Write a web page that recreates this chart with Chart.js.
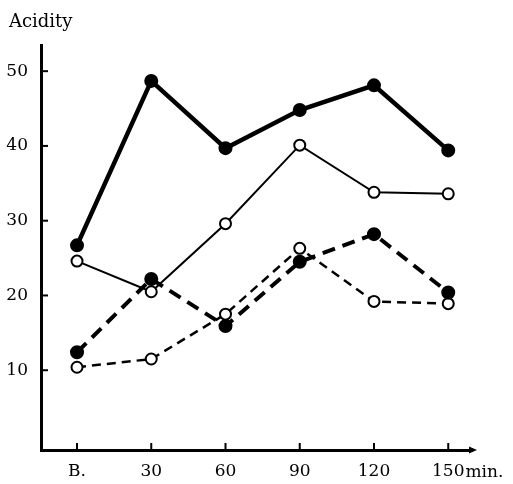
<!DOCTYPE html>
<html>
<head>
<meta charset="utf-8">
<script src="https://cdn.jsdelivr.net/npm/chart.js@4/dist/chart.umd.min.js"></script>
<style>
  html, body { margin: 0; padding: 0; background: #fff; }
  canvas { display: block; }
</style>
</head>
<body>
<canvas id="myChart" width="513" height="484" style="width:513px;height:484px"></canvas>
<script>
// datos
const categorias = ['B.', '30', '60', '90', '120', '150'];
const ticksY = [10, 20, 30, 40, 50];
const serieGruesaLlena = [26.7, 48.7, 39.7, 44.8, 48.1, 39.4];
const serieFinaAbierta = [24.6, 20.5, 29.6, 40.1, 33.8, 33.6];
const serieGruesaPuntos = [12.4, 22.2, 15.9, 24.5, 28.2, 20.4];
const serieFinaPuntos = [10.4, 11.5, 17.5, 26.3, 19.2, 18.9];

const FUENTE = "'DejaVu Serif', 'Liberation Serif', serif";

const aPuntos = (valores) => valores.map((v, i) => ({ x: i, y: v }));

// ejes con marcas hacia adentro, titulo y flecha
const decoracion = {
    id: 'decoracion',
    afterDraw(chart) {
        const ctx = chart.ctx;
        const area = chart.chartArea;
        const sx = chart.scales.x;
        const sy = chart.scales.y;
        ctx.save();
        ctx.strokeStyle = '#000';
        ctx.fillStyle = '#000';
        ctx.lineWidth = 2;
        ticksY.forEach(v => {
            const y = sy.getPixelForValue(v);
            ctx.beginPath();
            ctx.moveTo(area.left, y);
            ctx.lineTo(area.left + 7, y);
            ctx.stroke();
        });
        categorias.forEach((c, i) => {
            const x = sx.getPixelForValue(i);
            ctx.beginPath();
            ctx.moveTo(x, area.bottom);
            ctx.lineTo(x, area.bottom - 7);
            ctx.stroke();
        });
        // flecha del eje x
        ctx.beginPath();
        ctx.moveTo(area.right + 5, area.bottom);
        ctx.lineTo(area.right - 3, area.bottom - 3.5);
        ctx.lineTo(area.right - 3, area.bottom + 3.5);
        ctx.closePath();
        ctx.fill();

        ctx.font = '18px ' + FUENTE;
        ctx.textBaseline = 'alphabetic';
        ctx.textAlign = 'left';
        ctx.fillText('Acidity', 9, 27);

        // unidad junto al ultimo valor
        ctx.font = '17px ' + FUENTE;
        const xUlt = sx.getPixelForValue(categorias.length - 1);
        const anchoUlt = ctx.measureText(categorias[categorias.length - 1]).width;
        ctx.fillText('min.', xUlt + anchoUlt / 2 + 1, 477);
        ctx.restore();
    }
};

const estiloSerie = (datos, grosor, lleno, guiones) => ({
    data: aPuntos(datos),
    borderColor: '#000',
    borderWidth: grosor,
    borderDash: guiones,
    backgroundColor: lleno ? '#000' : '#fff',
    pointBackgroundColor: lleno ? '#000' : '#fff',
    pointBorderColor: '#000',
    pointBorderWidth: 2,
    pointRadius: lleno ? 6 : 5.5,
    tension: 0,
    fill: false,
    clip: false
});

const ctxGrafico = document.getElementById('myChart').getContext('2d');
new Chart(ctxGrafico, {
    type: 'line',
    data: {
        datasets: [
            estiloSerie(serieGruesaLlena, 4.5, true, []),
            estiloSerie(serieFinaAbierta, 2, false, []),
            estiloSerie(serieGruesaPuntos, 4, true, [13, 8]),
            estiloSerie(serieFinaPuntos, 2.5, false, [9, 6])
        ]
    },
    options: {
        responsive: false,
        animation: false,
        layout: { padding: { top: 45, right: 41, left: 0, bottom: 0 } },
        plugins: {
            legend: { display: false },
            tooltip: { enabled: false }
        },
        scales: {
            x: {
                type: 'linear',
                min: -0.485,
                max: 5.32,
                grid: { display: false },
                border: { display: true, color: '#000', width: 3 },
                afterBuildTicks: (eje) => { eje.ticks = categorias.map((c, i) => ({ value: i })); },
                afterFit: (eje) => { eje.height = 34; },
                ticks: {
                    color: '#000',
                    padding: 3,
                    maxRotation: 0,
                    autoSkip: false,
                    font: { family: FUENTE, size: 17 },
                    callback: (v) => categorias[v]
                }
            },
            y: {
                min: -0.67,
                max: 53.5,
                grid: { display: false },
                border: { display: true, color: '#000', width: 3 },
                afterBuildTicks: (eje) => { eje.ticks = ticksY.map(v => ({ value: v })); },
                afterFit: (eje) => { eje.width = 41; },
                ticks: {
                    color: '#000',
                    padding: 5,
                    font: { family: FUENTE, size: 17 }
                }
            }
        }
    },
    plugins: [decoracion]
});
</script>
</body>
</html>
